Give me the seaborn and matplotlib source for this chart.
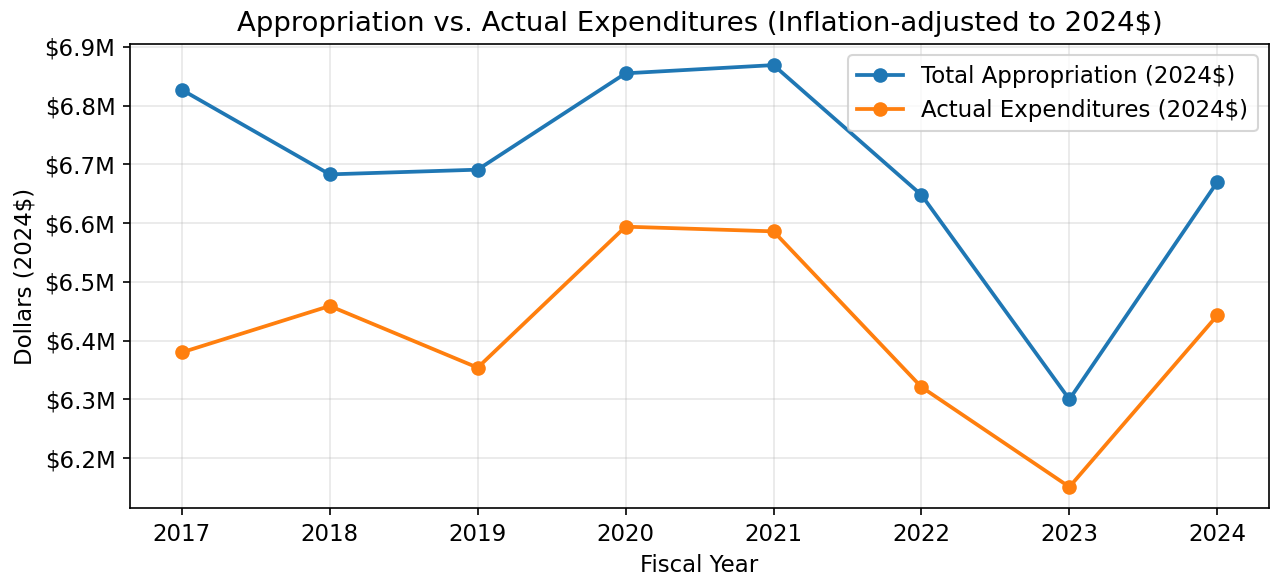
import matplotlib
matplotlib.use("Agg")
import matplotlib.pyplot as plt
import matplotlib.ticker as mticker
import pandas as pd
import seaborn as sns

years = [2017, 2018, 2019, 2020, 2021, 2022, 2023, 2024]
appropriation = [6.827e6, 6.683e6, 6.691e6, 6.855e6, 6.869e6, 6.648e6, 6.300e6, 6.670e6]
expenditures = [6.380e6, 6.459e6, 6.354e6, 6.594e6, 6.586e6, 6.321e6, 6.151e6, 6.443e6]

df = pd.DataFrame({
    "year": years,
    "appropriation": appropriation,
    "expenditures": expenditures,
})

plt.rcParams["font.size"] = 11

fig, ax = plt.subplots(figsize=(1271 / 150, 582 / 150), dpi=150)
fig.subplots_adjust(left=0.1023, right=0.9985, top=0.9244, bottom=0.1271)

sns.lineplot(data=df, x="year", y="appropriation", ax=ax, color="#1f77b4",
             marker="o", markersize=7, markeredgewidth=0, linewidth=1.8,
             label="Total Appropriation (2024$)")
sns.lineplot(data=df, x="year", y="expenditures", ax=ax, color="#ff7f0e",
             marker="o", markersize=7, markeredgewidth=0, linewidth=1.8,
             label="Actual Expenditures (2024$)")

ax.set_title("Appropriation vs. Actual Expenditures (Inflation-adjusted to 2024$)")
ax.set_xlabel("Fiscal Year")
ax.set_ylabel("Dollars (2024$)")
ax.set_xticks(years)
ax.yaxis.set_major_formatter(mticker.FuncFormatter(lambda v, p: f"${v / 1e6:.1f}M"))
ax.grid(True, alpha=0.3)
ax.legend(loc="upper right")

fig.savefig("out.png", dpi=150)
